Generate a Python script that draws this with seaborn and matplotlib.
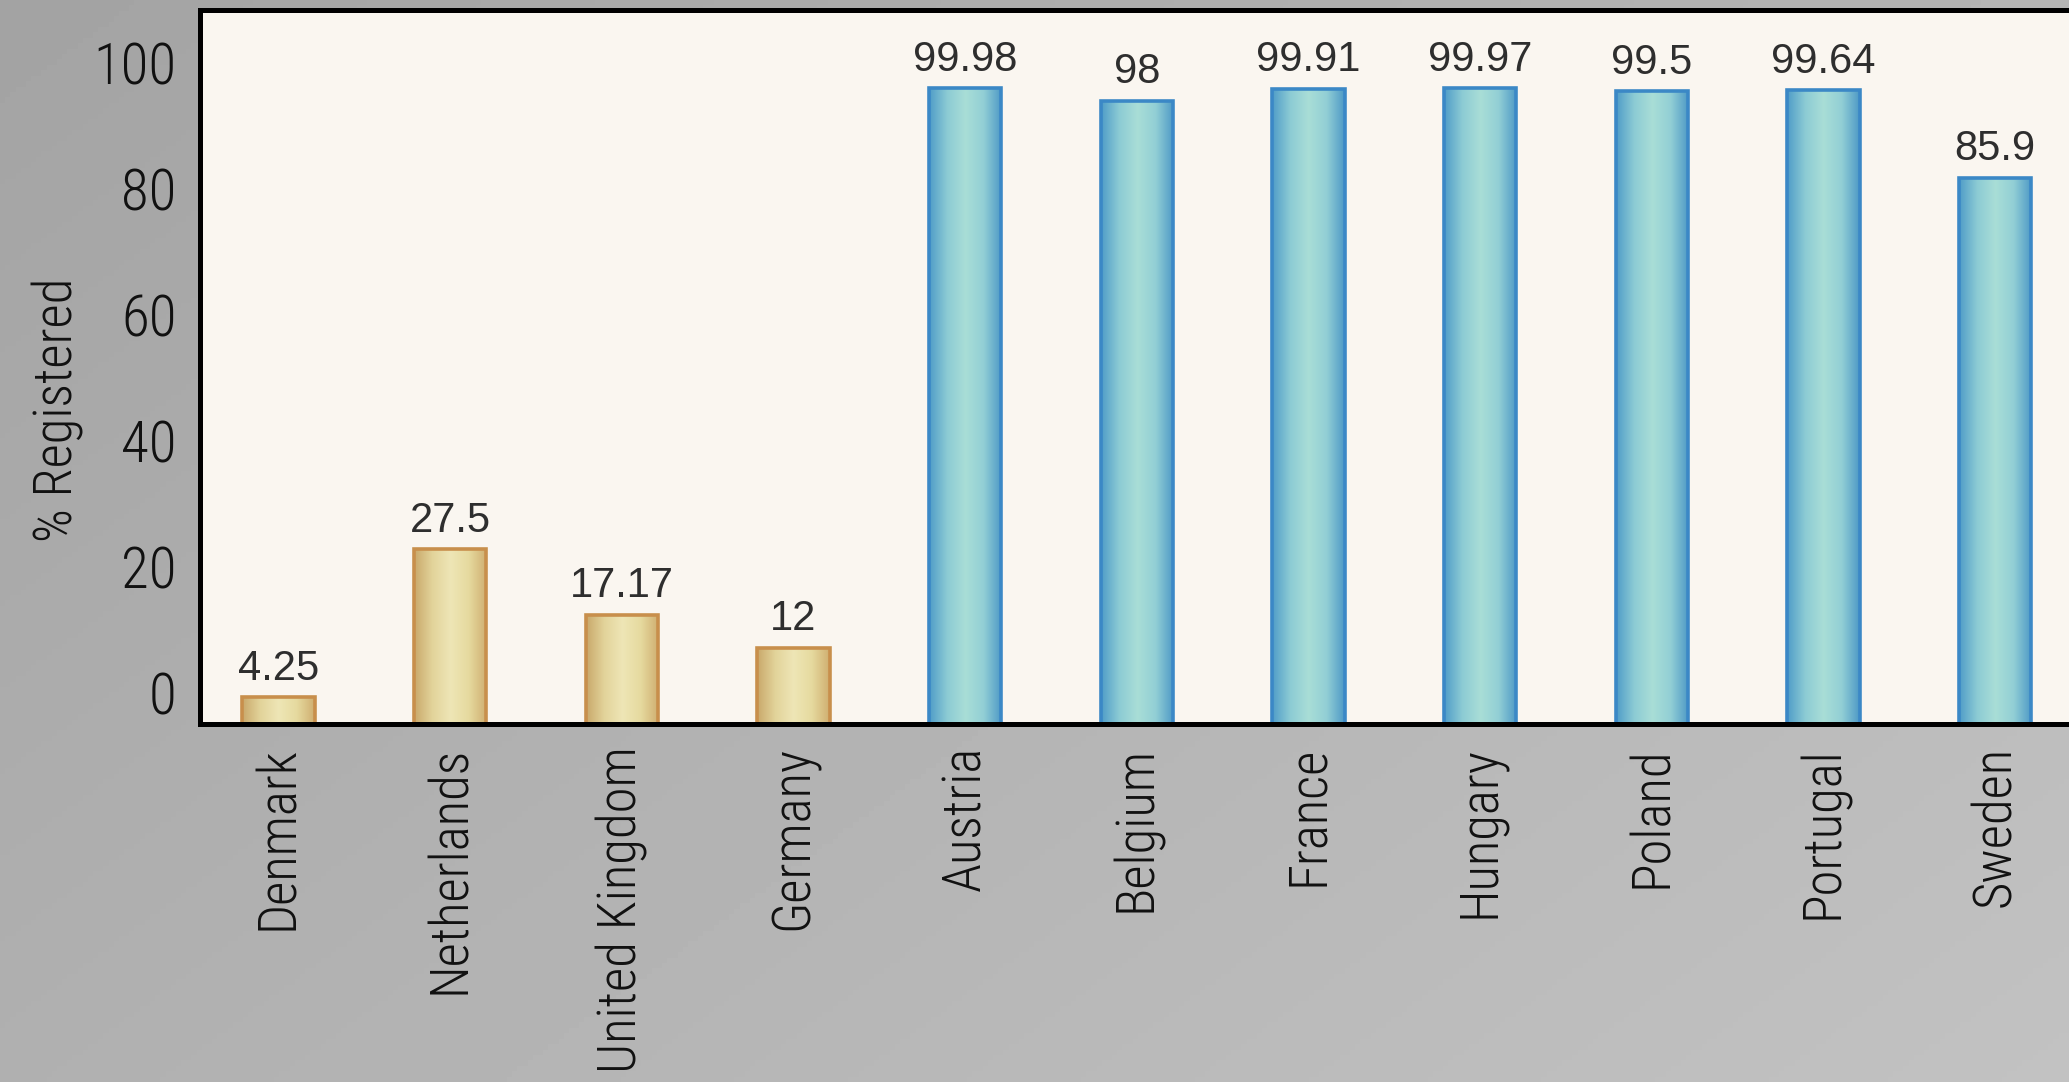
import numpy as np
import matplotlib
matplotlib.use("Agg")
import matplotlib.pyplot as plt
import seaborn as sns
from matplotlib import font_manager
from matplotlib.font_manager import FontProperties
from matplotlib.colors import LinearSegmentedColormap

# Share of population registered as organ donors, by country
countries = ["Denmark", "Netherlands", "United Kingdom", "Germany", "Austria",
             "Belgium", "France", "Hungary", "Poland", "Portugal", "Sweden"]
registered = [4.25, 27.5, 17.17, 12, 99.98, 98, 99.91, 99.97, 99.5, 99.64, 85.9]
policy = ["Opt-in"] * 4 + ["Opt-out"] * 7
y_ticks = [0, 20, 40, 60, 80, 100]

sns.set_theme(style="white")


def narrow_font_file():
    """Pick an upright, regular-weight condensed face if one is installed."""
    prefs = ["RobotoCondensed-Light", "RobotoCondensed-Regular",
             "OpenSans_Condensed-Regular", "OpenSansCondensed-Light",
             "LiberationSansNarrow-Regular", "DejaVuSansCondensed.ttf"]
    files = [f.fname for f in font_manager.fontManager.ttflist]
    for key in prefs:
        for path in files:
            if key in path:
                return path
    for path in files:
        low = path.lower()
        if ("condensed" in low or "narrow" in low) and "bold" not in low \
                and "oblique" not in low and "italic" not in low:
            return path
    return None


narrow_path = narrow_font_file()


def narrow(size):
    if narrow_path:
        return FontProperties(fname=narrow_path, size=size)
    return FontProperties(family="DejaVu Sans", size=size)


plain = ["Liberation Sans", "DejaVu Sans"]

W, H, DPI = 2069, 1082, 100
fig = plt.figure(figsize=(W / DPI, H / DPI), dpi=DPI)

# grey backdrop with a soft light falloff
bg = fig.add_axes([0, 0, 1, 1], zorder=-10)
yy, xx = np.mgrid[0:1:200j, 0:1:400j]
shade = 0.64 + 0.07 * xx + 0.05 * yy
bg.imshow(shade, cmap="gray", vmin=0, vmax=1, aspect="auto",
          extent=[0, 1, 0, 1], origin="upper")
bg.set_axis_off()

ax = fig.add_axes([0.0967, 0.3309, 1 - 0.0967, 0.6594])
ax.set_facecolor("#faf6f0")

fills = {"Opt-in": "#ebe2ad", "Opt-out": "#a6dcd6"}
edges = {"Opt-in": "#c88f4c", "Opt-out": "#3b88c6"}
sns.barplot(x=countries, y=registered, hue=policy, palette=fills,
            dodge=False, width=0.42, legend=False, ax=ax,
            linewidth=2.6, saturation=1)

# shaded cylinder-like fill inside each bar, then the outline on top
ramps = {
    "Opt-in": LinearSegmentedColormap.from_list(
        "in", ["#c9a86a", "#e2d39a", "#eee6b6", "#e6da9f", "#cfae70"]),
    "Opt-out": LinearSegmentedColormap.from_list(
        "out", ["#4f9cc8", "#8ccbd4", "#a9ded7", "#92cfd5", "#4d98c6"]),
}
grad = np.linspace(0, 1, 256).reshape(1, -1)
for container, grp in zip(ax.containers, ["Opt-in", "Opt-out"]):
    for patch in container.patches:
        x0, y0, w, h = patch.get_x(), patch.get_y(), patch.get_width(), patch.get_height()
        if not np.isfinite(h) or h == 0:
            continue
        im = ax.imshow(grad, cmap=ramps[grp], aspect="auto",
                       extent=[x0, x0 + w, y0, y0 + h], zorder=1.5)
        im.set_clip_path(patch)
        patch.set_facecolor("none")
        patch.set_edgecolor(edges[grp])
        patch.set_zorder(2)
    ax.bar_label(container, fmt="%g", padding=6, fontsize=30,
                 color="#2e2e2e", family=plain)

ax.set_xlim(-0.457, 10.43)
ax.set_ylim(0, 112.2)

for side in ["left", "top", "bottom"]:
    ax.spines[side].set_visible(True)
    ax.spines[side].set_color("black")
    ax.spines[side].set_linewidth(3.6)
ax.spines["right"].set_visible(False)

ax.set_xlabel("")
ax.set_ylabel("")
ax.tick_params(axis="x", length=0, pad=16)
ax.set_xticks(range(len(countries)))
ax.set_xticklabels(countries, rotation=90, va="top", ha="center",
                   fontproperties=narrow(38), color="#111111")
ax.tick_params(axis="y", left=False, labelleft=False)

# percentage scale drawn on its own left axis
sec = ax.secondary_yaxis("left", functions=(lambda y: (y - 4.92) / 0.99,
                                             lambda v: v * 0.99 + 4.92))
sec.set_yticks(y_ticks)
sec.set_yticklabels([str(t) for t in y_ticks], fontproperties=narrow(41),
                    color="#111111")
sec.tick_params(length=0, pad=17)
sec.spines["left"].set_visible(False)
sec.set_ylabel("% Registered", fontproperties=narrow(38), color="#111111")
sec.yaxis.set_label_coords(-0.062, 0.44, transform=ax.transAxes)

fig.savefig("out.png", dpi=DPI)
